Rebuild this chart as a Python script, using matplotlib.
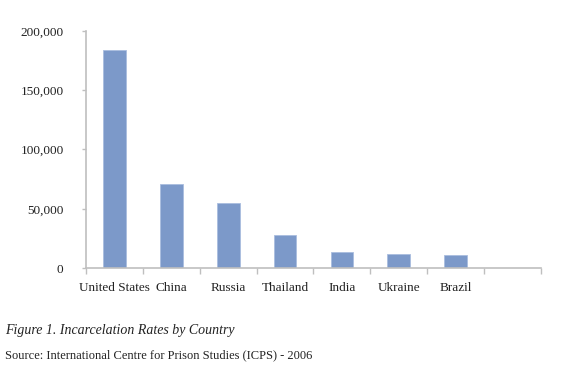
import matplotlib.pyplot as plt
from matplotlib.ticker import FuncFormatter

# data
countries = ["United States", "China", "Russia", "Thailand", "India", "Ukraine", "Brazil", ""]
prisoners = [184000, 71000, 55000, 28200, 13100, 11700, 10900, 0]
y_ticks = [0, 50000, 100000, 150000, 200000]

plt.rcParams["font.family"] = ["Liberation Serif", "DejaVu Serif"]

fig = plt.figure(figsize=(5.8, 3.73), dpi=100)
ax = fig.add_axes([0.148, 0.2815, 0.785, 0.6354])

pos = list(range(len(countries)))
ax.bar(pos[:-1], prisoners[:-1], width=0.4, color="#7C99C9", edgecolor="#A9BDDF", linewidth=0.6, zorder=2)

ax.set_xlim(-0.5, len(countries) - 0.5)
ax.set_ylim(0, 200000)
ax.set_yticks(y_ticks)
ax.yaxis.set_major_formatter(FuncFormatter(lambda v, p: f"{int(v):,}"))

ax.set_xticks(pos)
ax.set_xticklabels(countries)
ax.set_xticks([p - 0.5 for p in pos] + [pos[-1] + 0.5], minor=True)
ax.tick_params(axis="x", which="major", length=0, pad=10, labelsize=9.5, colors="#222222")
ax.tick_params(axis="x", which="minor", length=4, color="#BFBFBF", width=1)
ax.tick_params(axis="y", length=3, color="#BFBFBF", width=1, pad=13, labelsize=9.5, labelcolor="#222222")

for side in ["top", "right"]:
    ax.spines[side].set_visible(False)
for side in ["left", "bottom"]:
    ax.spines[side].set_color("#BFBFBF")
    ax.spines[side].set_linewidth(1.2)

fig.text(0.009, 0.113, "Figure 1. Incarcelation Rates by Country", fontsize=10, style="italic", color="#222222", va="center")
fig.text(0.009, 0.048, "Source: International Centre for Prison Studies (ICPS) - 2006", fontsize=9, color="#222222", va="center")

fig.savefig("out.png", dpi=100)
